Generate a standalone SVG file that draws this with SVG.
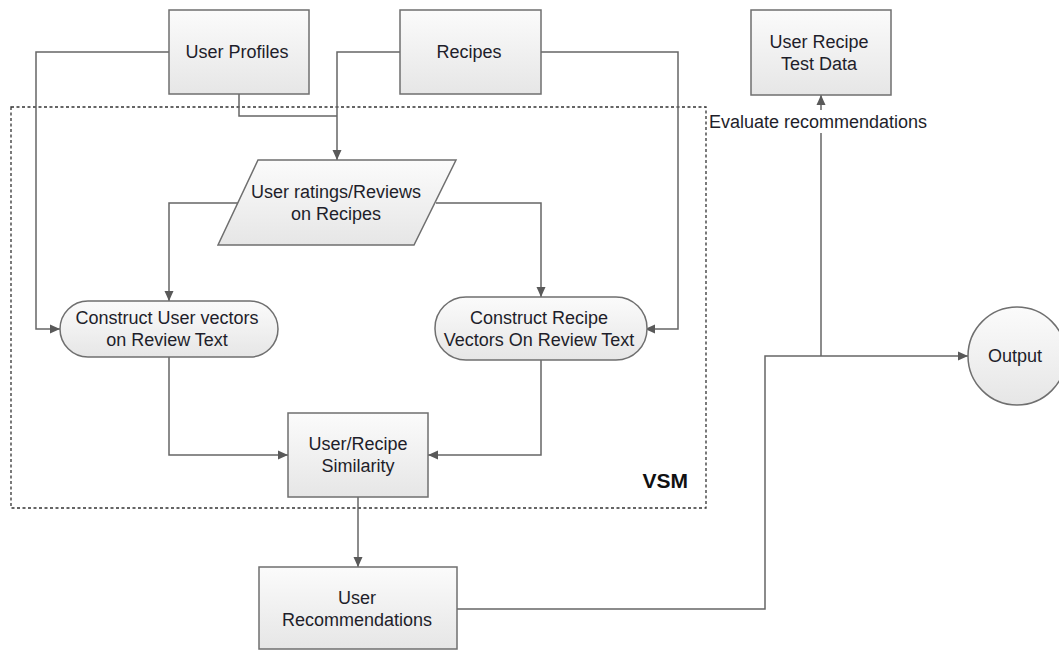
<svg xmlns="http://www.w3.org/2000/svg" width="1059" height="651" viewBox="0 0 1059 651">
  <defs>
    <linearGradient id="g" x1="0" y1="0" x2="0" y2="1">
      <stop offset="0" stop-color="#fbfbfb"/>
      <stop offset="1" stop-color="#e6e6e6"/>
    </linearGradient>
    <marker id="arr" markerUnits="userSpaceOnUse" markerWidth="10" markerHeight="10" refX="10" refY="5" orient="auto">
      <path d="M0,0.5 L10,5 L0,9.5 z" fill="#595959"/>
    </marker>
    <style>
      .shape { fill: url(#g); stroke: #6f6f6f; stroke-width: 1.5; }
      .t { font-family: "Liberation Sans", Arial, sans-serif; font-size: 18px; fill: #1e1e2a; text-anchor: middle; }
      .c { fill: none; stroke: #666666; stroke-width: 1.5; }
    </style>
  </defs>
  <rect width="1059" height="651" fill="#ffffff"/>

  <rect id="vsm-frame" x="11" y="107" width="695" height="401" fill="none" stroke="#333333" stroke-width="1.3" stroke-dasharray="3,2.5"/>
  <text x="688" y="488" style="font-family:'Liberation Sans',Arial,sans-serif;font-size:21px;font-weight:bold;fill:#111;text-anchor:end">VSM</text>

  <g id="connectors">
    <path class="c" d="M169,52 H36 V329 H60" marker-end="url(#arr)"/>
    <path class="c" d="M239,94 V116 H337"/>
    <path class="c" d="M400,52 H337 V160" marker-end="url(#arr)"/>
    <path class="c" d="M541,52 H678 V329 H645" marker-end="url(#arr)"/>
    <path class="c" d="M238,203 H169 V301" marker-end="url(#arr)"/>
    <path class="c" d="M436,203 H541 V297" marker-end="url(#arr)"/>
    <path class="c" d="M169,357 V455 H288" marker-end="url(#arr)"/>
    <path class="c" d="M541,360 V455 H428" marker-end="url(#arr)"/>
    <path class="c" d="M358,497 V567" marker-end="url(#arr)"/>
    <path class="c" d="M457,609 H765 V356 H968" marker-end="url(#arr)"/>
    <path class="c" d="M821,356 V95" marker-end="url(#arr)"/>
    <rect x="708" y="110" width="222" height="23" fill="#ffffff"/>
    <text class="t" x="818" y="128">Evaluate recommendations</text>
  </g>

  <g id="user-profiles">
    <rect class="shape" x="169" y="10" width="140" height="84"/>
    <text class="t" x="237" y="58">User Profiles</text>
  </g>

  <g id="recipes">
    <rect class="shape" x="400" y="10" width="141" height="84"/>
    <text class="t" x="469" y="58">Recipes</text>
  </g>

  <g id="test-data">
    <rect class="shape" x="751" y="10" width="140" height="85"/>
    <text class="t" x="819" y="48">User Recipe</text>
    <text class="t" x="819" y="70">Test Data</text>
  </g>

  <g id="ratings">
    <polygon class="shape" points="258,160 456,160 414,245 218,245"/>
    <text class="t" x="336" y="198">User ratings/Reviews</text>
    <text class="t" x="336" y="220">on Recipes</text>
  </g>

  <g id="user-vectors">
    <rect class="shape" x="60" y="301" width="218" height="56" rx="28" ry="28"/>
    <text class="t" x="167" y="324">Construct User vectors</text>
    <text class="t" x="167" y="346">on Review Text</text>
  </g>

  <g id="recipe-vectors">
    <rect class="shape" x="435" y="297" width="212" height="63" rx="31" ry="31"/>
    <text class="t" x="539" y="324">Construct Recipe</text>
    <text class="t" x="539" y="346">Vectors On Review Text</text>
  </g>

  <g id="similarity">
    <rect class="shape" x="288" y="413" width="140" height="84"/>
    <text class="t" x="358" y="450">User/Recipe</text>
    <text class="t" x="358" y="472">Similarity</text>
  </g>

  <g id="recommendations">
    <rect class="shape" x="259" y="567" width="198" height="82"/>
    <text class="t" x="357" y="604">User</text>
    <text class="t" x="357" y="626">Recommendations</text>
  </g>

  <g id="output">
    <circle class="shape" cx="1017" cy="356" r="49"/>
    <text class="t" x="1015" y="362">Output</text>
  </g>
</svg>
